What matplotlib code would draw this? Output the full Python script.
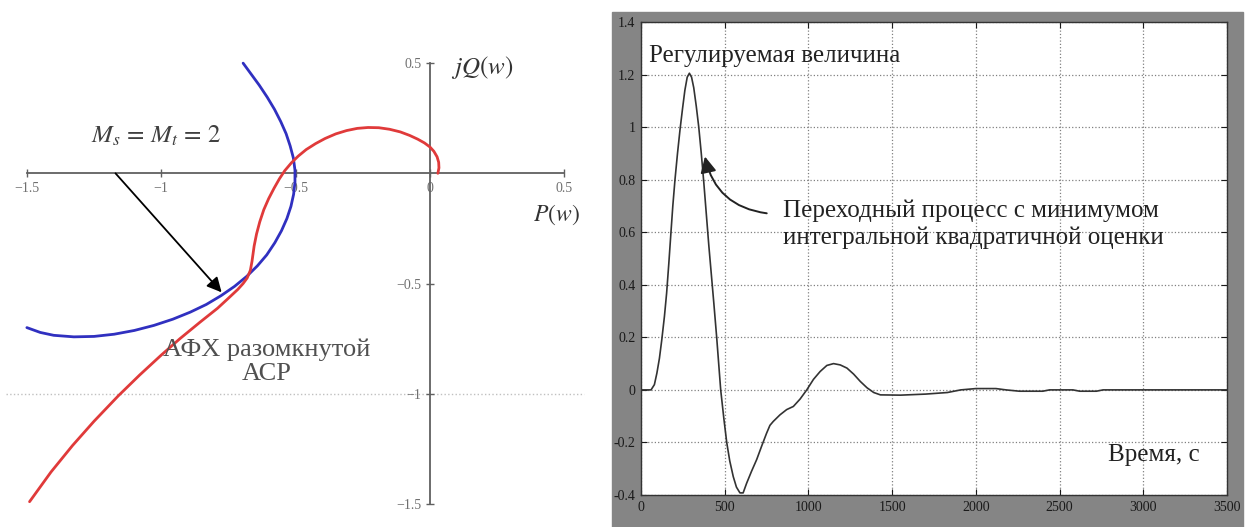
import matplotlib
matplotlib.use('Agg')
import matplotlib.pyplot as plt
from matplotlib.patches import Rectangle

plt.rcParams['font.family'] = ['Liberation Serif', 'DejaVu Serif']
plt.rcParams['mathtext.fontset'] = 'stix'

# --- left: open-loop frequency response (AFC) and M-circle ---
ms_p = [-0.695, -0.665, -0.635, -0.605, -0.578, -0.555, -0.535, -0.52, -0.508, -0.502,
        -0.502, -0.507, -0.517, -0.532, -0.552, -0.577, -0.607, -0.642, -0.682, -0.727,
        -0.777, -0.832, -0.892, -0.957, -1.027, -1.10, -1.175, -1.25, -1.325, -1.40,
        -1.45, -1.50]
ms_q = [0.50, 0.45, 0.40, 0.345, 0.29, 0.235, 0.18, 0.125, 0.07, 0.015,
        -0.04, -0.095, -0.15, -0.205, -0.26, -0.315, -0.37, -0.42, -0.468, -0.513,
        -0.555, -0.595, -0.63, -0.662, -0.69, -0.713, -0.73, -0.74, -0.742, -0.735,
        -0.722, -0.70]

afc_p = [0.030, 0.034, 0.033, 0.027, 0.015, 0.000, -0.020, -0.045, -0.075, -0.110,
         -0.150, -0.190, -0.230, -0.270, -0.310, -0.350, -0.390, -0.425, -0.460, -0.490,
         -0.515, -0.540, -0.560, -0.580, -0.600, -0.618, -0.633, -0.645, -0.654, -0.662,
         -0.668, -0.680, -0.695, -0.715, -0.750, -0.790, -0.855, -0.930, -1.000, -1.080,
         -1.160, -1.250, -1.330, -1.410, -1.490]
afc_q = [0.000, 0.025, 0.050, 0.075, 0.100, 0.120, 0.138, 0.155, 0.172, 0.188,
         0.200, 0.207, 0.208, 0.204, 0.194, 0.179, 0.158, 0.135, 0.108, 0.078,
         0.048, 0.012, -0.025, -0.068, -0.115, -0.165, -0.220, -0.275, -0.330, -0.400,
         -0.440, -0.475, -0.500, -0.527, -0.567, -0.612, -0.675, -0.750, -0.825, -0.915,
         -1.010, -1.125, -1.235, -1.355, -1.490]

p_ticks = [-1.5, -1, -0.5, 0, 0.5]
p_labels = ['\u22121.5', '\u22121', '\u22120.5', '0', '0.5']
q_ticks = [0.5, -0.5, -1, -1.5]
q_labels = ['0.5', '\u22120.5', '\u22121', '\u22121.5']

# --- right: transient response ---
t_sec = [0, 60, 80, 95, 110, 124, 140, 153, 166, 179, 190, 203, 218, 233, 248, 262,
         276, 289, 302, 315, 330, 345, 360, 375, 390, 405, 420, 435, 452, 476, 495,
         512, 530, 551, 570, 591, 610, 631, 660, 691, 720, 750, 770, 790, 830, 870,
         910, 950, 990, 1030, 1070, 1110, 1150, 1190, 1230, 1270, 1310, 1350, 1390,
         1430, 1550, 1700, 1830, 1910, 2000, 2120, 2180, 2260, 2400, 2440, 2580,
         2620, 2720, 2760, 3500]
y_out = [0, 0, 0.02, 0.064, 0.12, 0.19, 0.28, 0.368, 0.48, 0.6, 0.70, 0.80, 0.90,
         0.99, 1.07, 1.14, 1.19, 1.205, 1.19, 1.15, 1.08, 1.00, 0.90, 0.79, 0.67,
         0.55, 0.44, 0.33, 0.20, 0.0, -0.11, -0.2, -0.27, -0.33, -0.37, -0.392,
         -0.392, -0.355, -0.31, -0.265, -0.215, -0.165, -0.135, -0.12, -0.095,
         -0.075, -0.063, -0.035, 0.0, 0.04, 0.07, 0.093, 0.10, 0.095, 0.083, 0.06,
         0.032, 0.008, -0.01, -0.019, -0.02, -0.016, -0.01, 0.0, 0.005, 0.005, 0.0,
         -0.005, -0.005, 0.0, 0.0, -0.005, -0.005, 0.0, 0.0]

t_ticks = [0, 500, 1000, 1500, 2000, 2500, 3000, 3500]
y_ticks = [-0.4, -0.2, 0, 0.2, 0.4, 0.6, 0.8, 1, 1.2, 1.4]
y_labels = ['-0.4', '-0.2', '0', '0.2', '0.4', '0.6', '0.8', '1', '1.2', '1.4']

W, H = 1248, 527
fig = plt.figure(figsize=(W / 100, H / 100), dpi=100)

# ---------------- left panel ----------------
ax1 = fig.add_axes([0.0, 0.002, 591 / W, 0.920])
ax1.plot(ms_p, ms_q, color='#3030c0', lw=2.0, solid_capstyle='round', zorder=3)
ax1.plot(afc_p, afc_q, color='#e03a3a', lw=2.0, solid_capstyle='round', zorder=3)
ax1.set_xlim(-1.6, 0.6)
ax1.set_ylim(-1.6, 0.6)
for s in ['top', 'right']:
    ax1.spines[s].set_visible(False)
for s in ['left', 'bottom']:
    ax1.spines[s].set_position(('data', 0))
    ax1.spines[s].set_bounds(-1.5, 0.5)
    ax1.spines[s].set_color('#606060')
    ax1.spines[s].set_linewidth(1.3)
ax1.set_xticks(p_ticks)
ax1.set_xticklabels(p_labels)
ax1.set_yticks(q_ticks)
ax1.set_yticklabels(q_labels)
ax1.tick_params(direction='inout', length=6, width=1, colors='#606060',
                labelsize=10, labelcolor='#707070', pad=3)
ax1.set_facecolor('none')

ax1.axhline(-1, xmin=0.01, xmax=0.988, color='#c0c0c0', ls=':', lw=1.0, zorder=1)

ax1.annotate('', xy=(-0.775, -0.54), xytext=(-1.17, 0.0),
             arrowprops=dict(arrowstyle='-|>', color='black', lw=1.3,
                             mutation_scale=22, shrinkA=0, shrinkB=0), zorder=4)
ax1.text(-1.02, 0.172, r'$M_s\,=\,M_t\,=\,2$', fontsize=18, color='#404040',
         ha='center', va='center')
ax1.text(0.08, 0.48, r'$jQ(w)$', fontsize=18, color='#333333',
         ha='left', va='center')
ax1.text(0.385, -0.19, r'$P(w)$', fontsize=17, color='#333333',
         ha='left', va='center')
ax1.text(-0.607, -0.855, 'АФХ разомкнутой\nАСР', fontsize=19, color='#505050',
         ha='center', va='center', linespacing=1.1)

# ---------------- right panel ----------------
fig.add_artist(Rectangle((612 / W, 0), (1243 - 612) / W, (H - 12) / H,
                         transform=fig.transFigure, color='#858585', zorder=-5))

ax2 = fig.add_axes([641 / W, 32 / H, 586 / W, 473 / H])
ax2.set_zorder(2)
ax2.plot(t_sec, y_out, color='#333333', lw=1.2, zorder=3)
ax2.set_xlim(0, 3500)
ax2.set_ylim(-0.4, 1.4)
ax2.set_xticks(t_ticks)
ax2.set_xticklabels([str(v) for v in t_ticks])
ax2.set_yticks(y_ticks)
ax2.set_yticklabels(y_labels)
ax2.grid(True, ls=':', color='#808080', lw=0.9)
ax2.tick_params(direction='in', top=True, right=True, length=4, width=0.8,
                labelsize=10, colors='#1a1a1a', pad=4)
for s in ax2.spines.values():
    s.set_color('#333333')
    s.set_linewidth(1.0)

ax2.text(48, 1.27, 'Регулируемая величина', fontsize=18, color='#222222',
         ha='left', va='center')
ax2.text(848, 0.63, 'Переходный процесс с минимумом\nинтегральной квадратичной оценки',
         fontsize=18, color='#222222', ha='left', va='center', linespacing=1.25)
ax2.annotate('', xy=(382, 0.888), xytext=(751, 0.672),
             arrowprops=dict(arrowstyle='-|>', color='#222222', lw=1.4,
                             mutation_scale=24, shrinkA=0, shrinkB=0,
                             connectionstyle='arc3,rad=-0.35'), zorder=4)
ax2.text(2790, -0.247, 'Время, с', fontsize=18, color='#222222',
         ha='left', va='center')

fig.savefig('out.png', dpi=100)
